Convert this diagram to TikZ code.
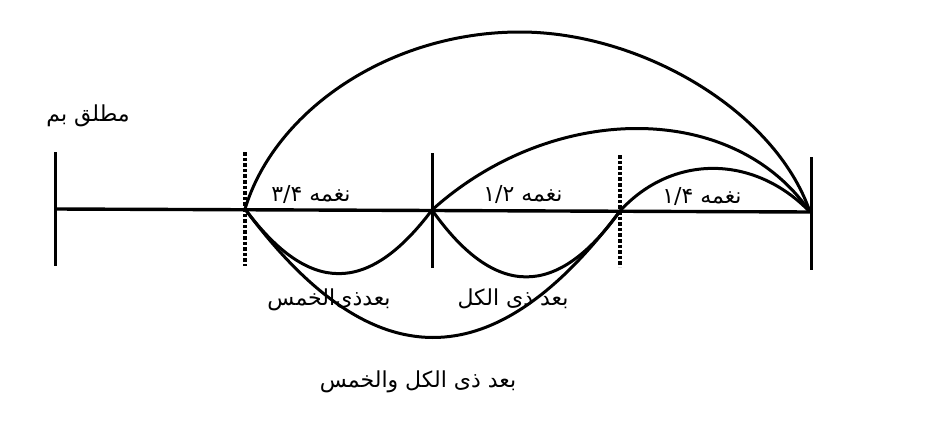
\documentclass[tikz,border=0pt]{standalone}
\usepackage{fontspec}
\newfontfamily\arabicfont[Script=Arabic]{DejaVu Sans}
\TeXXeTstate=1
\tikzset{
  ln/.style={line width=3pt, black},
  dsh/.style={line width=3.6pt, black, dash pattern=on 3.6pt off 2pt},
  arc/.style={line width=3pt, black},
  lbl/.style={font=\arabicfont\fontsize{22}{26}\selectfont, inner sep=0pt, text=black}
}
\begin{document}
\begin{tikzpicture}[x=1pt,y=-1pt]
\useasboundingbox (0,0) rectangle (927,431);
\fill[white] (0,0) rectangle (927,431);
% points on the line
\coordinate (p0) at (55,209);
\coordinate (p1) at (245,209);
\coordinate (p2) at (432,210);
\coordinate (p3) at (620,211);
\coordinate (p4) at (810,212);
% tick ends
\coordinate (t0) at (55,152);  \coordinate (b0) at (55,266);
\coordinate (t1) at (245,152); \coordinate (b1) at (245,266);
\coordinate (t2) at (432,153); \coordinate (b2) at (432,268);
\coordinate (t3) at (620,155); \coordinate (b3) at (620,267);
\coordinate (t4) at (811,157); \coordinate (b4) at (811,270);
% main line and ticks
\draw[line width=3.4pt, black] (p0) -- (p4);
\draw[ln] (t0) -- (b0);
\draw[dsh] (t1) -- (b1);
\draw[ln] (t2) -- (b2);
\draw[dsh] (t3) -- (b3);
\draw[ln] (t4) -- (b4);
% upper arcs
\draw[arc] (p1) .. controls (275,110) and (390,32) .. (520,32)
                .. controls (640,32) and (775,110) .. (p4);
\draw[arc] (p2) .. controls (553,101) and (734,101) .. (p4);
\draw[arc] (p3) .. controls (672,154) and (754,154) .. (p4);
% lower arcs
\draw[arc] (p1) .. controls (309,295) and (368,295) .. (p2);
\draw[arc] (p2) .. controls (495,299) and (557,299) .. (p3);
\draw[arc] (p1) .. controls (372,380) and (493,380) .. (p3);
% labels
\node[lbl] (lm) at (88,116) {\beginR مطلق بم\endR};
\node[lbl] (n34) at (311,194) {\beginR نغمه \beginL ۳/۴\endL\endR};
\node[lbl] (n12) at (523,194) {\beginR نغمه \beginL ۱/۲\endL\endR};
\node[lbl] (n14) at (702,196) {\beginR نغمه \beginL ۱/۴\endL\endR};
\node[lbl] (bk) at (329,300) {\beginR بعدذی‌الخمس\endR};
\node[lbl] (bz) at (513,299) {\beginR بعد ذی الکل\endR};
\node[lbl] (bzk) at (418,382) {\beginR بعد ذی الکل والخمس\endR};
\end{tikzpicture}
\end{document}
